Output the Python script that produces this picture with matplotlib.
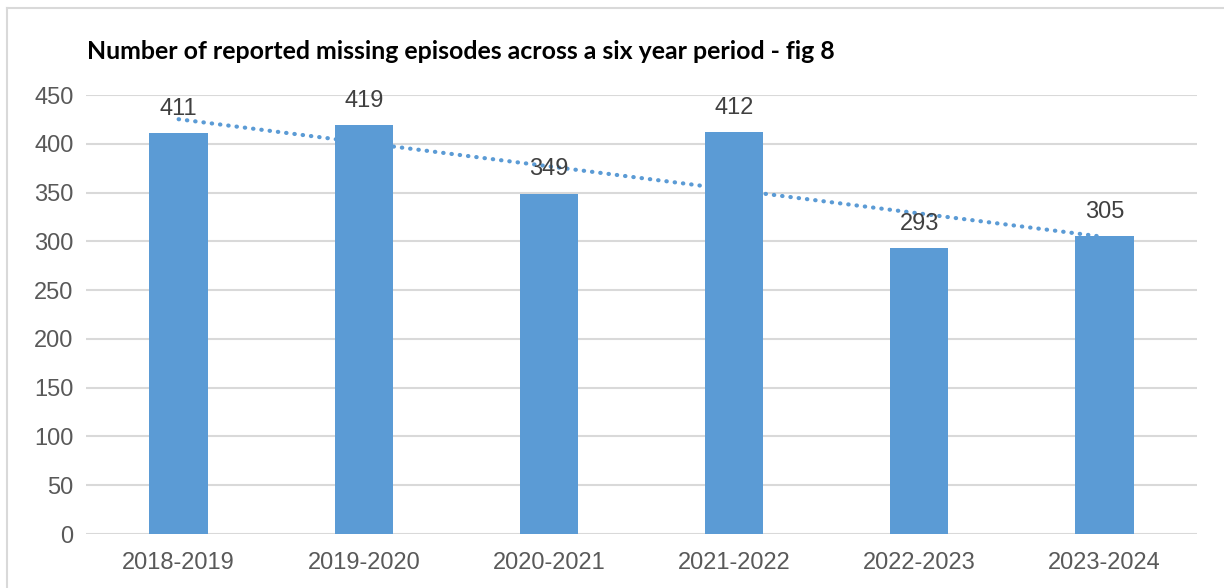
import numpy as np
import matplotlib.pyplot as plt
from matplotlib.lines import Line2D

years = ['2018-2019', '2019-2020', '2020-2021', '2021-2022', '2022-2023', '2023-2024']
episodes = [411, 419, 349, 412, 293, 305]
yticks = [0, 50, 100, 150, 200, 250, 300, 350, 400, 450]

bar_col = '#5B9BD5'
grid_col = '#D9D9D9'
txt_col = '#595959'

plt.rcParams['font.family'] = ['Liberation Sans', 'DejaVu Sans']

fig = plt.figure(figsize=(12.24, 5.88), dpi=100)
ax = fig.add_axes([0.0703, 0.0918, 0.9077, 0.7466])

x = np.arange(len(years))
ax.bar(x, episodes, width=0.315, color=bar_col, zorder=3)

# linear trendline across the periods
k, b = np.polyfit(x, episodes, 1)
ax.plot(x, k * x + b, linestyle=(0, (0.1, 1.9)), dash_capstyle='round',
        color=bar_col, linewidth=3, zorder=4)

for xi, v in zip(x, episodes):
    ax.annotate(str(v), (xi, v), xytext=(0, 9.5), textcoords='offset points',
                ha='center', va='bottom', fontsize=17, color='#404040', zorder=5)

ax.set_xlim(-0.5, len(years) - 0.5)
ax.set_ylim(0, 450)
ax.set_yticks(yticks)
ax.set_xticks(x)
ax.set_xticklabels(years)
ax.grid(axis='y', color=grid_col, linewidth=1.5, zorder=0)
ax.set_axisbelow(True)
for s in ax.spines.values():
    s.set_visible(False)
ax.tick_params(axis='both', length=0, labelsize=17, labelcolor=txt_col)
ax.tick_params(axis='y', pad=9)
ax.tick_params(axis='x', pad=13)

fig.text(0.071, 0.913, 'Number of reported missing episodes across a six year period - fig 8',
         fontsize=17.9, fontweight='bold', family=['Lato', 'DejaVu Sans'],
         ha='left', va='center', color='black')

# chart frame
fig.add_artist(Line2D([0.0057, 0.0057], [0, 0.986], color=grid_col, linewidth=1.5))
fig.add_artist(Line2D([0.0057, 1.0], [0.986, 0.986], color=grid_col, linewidth=1.5))

fig.savefig('out.png', dpi=100)
